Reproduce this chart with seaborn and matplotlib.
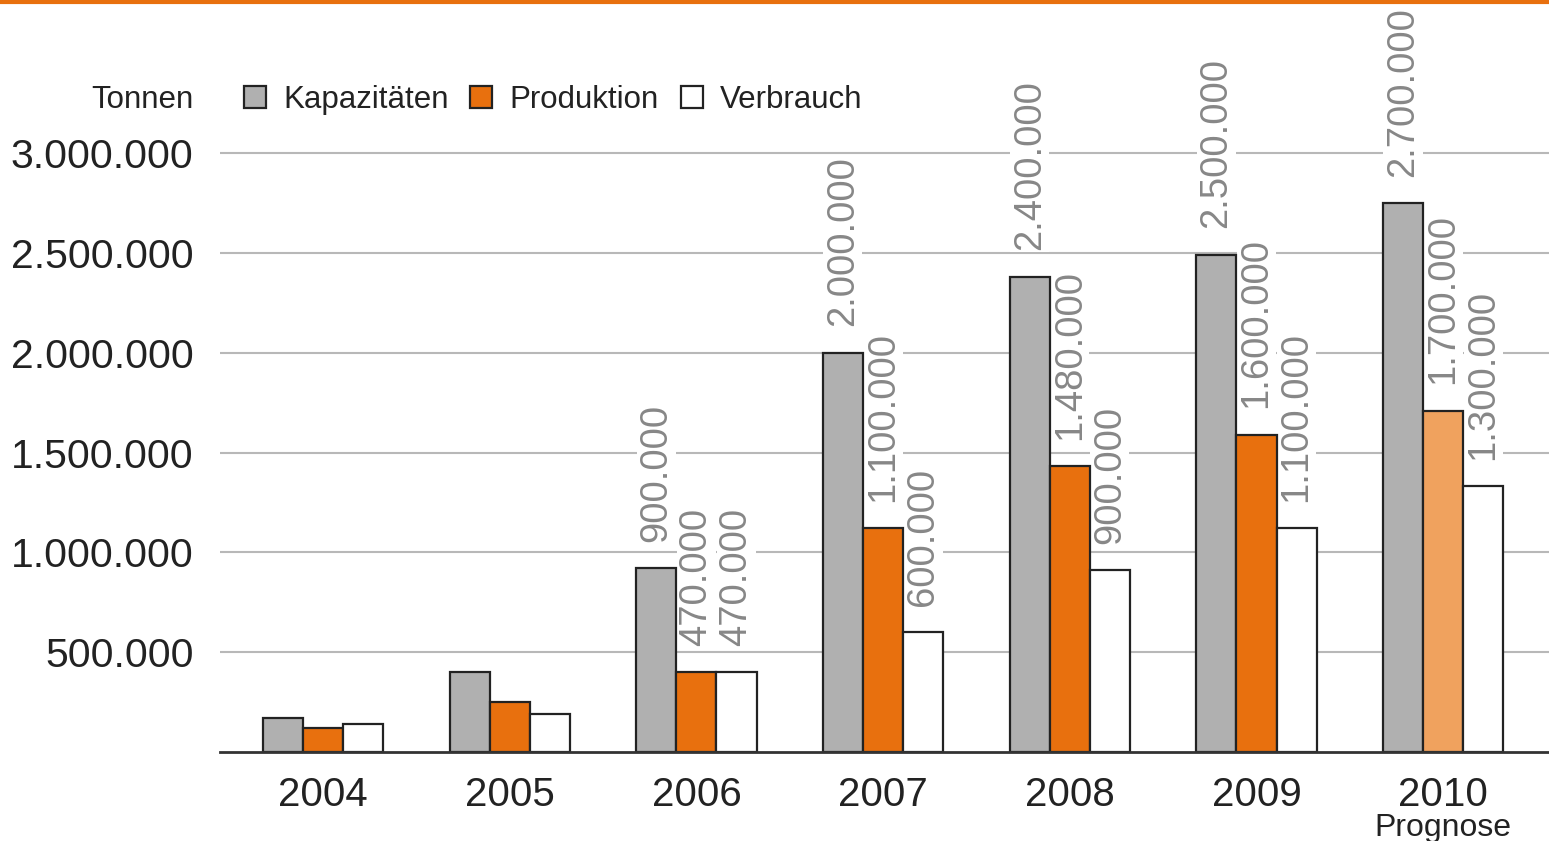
import pandas as pd
import matplotlib.pyplot as plt
import seaborn as sns
from matplotlib.patches import Patch
from matplotlib.lines import Line2D

sns.set_style('white')
plt.rcParams['font.family'] = ['Liberation Sans', 'DejaVu Sans']

# Daten (Tonnen)
jahre = ['2004', '2005', '2006', '2007', '2008', '2009', '2010']
kapazitaeten = [170000, 400000, 920000, 2000000, 2380000, 2490000, 2750000]
produktion = [120000, 250000, 400000, 1120000, 1430000, 1590000, 1710000]
verbrauch = [140000, 190000, 400000, 600000, 910000, 1120000, 1330000]

kap_labels = ['', '', '900.000', '2.000.000', '2.400.000', '2.500.000', '2.700.000']
prod_labels = ['', '', '470.000', '1.100.000', '1.480.000', '1.600.000', '1.700.000']
verb_labels = ['', '', '470.000', '600.000', '900.000', '1.100.000', '1.300.000']

serien = ['Kapazitäten', 'Produktion', 'Verbrauch']
y_ticks = [500000, 1000000, 1500000, 2000000, 2500000, 3000000]

GRAU = '#b0b0b0'
ORANGE = '#e8700e'
ORANGE_HELL = '#f0a25e'
WEISS = '#ffffff'
KANTE = '#222222'
LABEL_GRAU = '#878787'

df = pd.DataFrame({'Jahr': jahre, 'Kapazitäten': kapazitaeten,
                   'Produktion': produktion, 'Verbrauch': verbrauch})
df_long = df.melt(id_vars='Jahr', var_name='Serie', value_name='Tonnen')

W, H = 1549, 841
fig = plt.figure(figsize=(W / 100, H / 100), dpi=100)
ax = fig.add_axes([220 / W, (H - 752) / H, (W - 220) / W, 752 / H])

sns.barplot(data=df_long, x='Jahr', y='Tonnen', hue='Serie', hue_order=serien,
            palette=[GRAU, ORANGE, WEISS], saturation=1, width=0.645,
            edgecolor=KANTE, linewidth=1.6, legend=False, ax=ax, zorder=3)

# Prognose 2010 heller
ax.containers[1][6].set_facecolor(ORANGE_HELL)

ax.set_xlim(-0.552, 6.567)
ax.set_ylim(0, 752 / 599 * 3000000)
ax.set_yticks(y_ticks)
ax.set_yticklabels([f'{v:,}'.replace(',', '.') for v in y_ticks])
ax.set_xlabel('')
ax.set_ylabel('')
ax.set_axisbelow(True)
ax.yaxis.grid(True, color='#b8b8b8', linewidth=1.5)
ax.tick_params(axis='y', length=0, pad=19, labelsize=29.5, labelcolor='#222222')
ax.tick_params(axis='x', length=0, pad=17, labelsize=29, labelcolor='#222222')
for s in ['top', 'right', 'left']:
    ax.spines[s].set_visible(False)
ax.spines['bottom'].set_color('#333333')
ax.spines['bottom'].set_linewidth(2)
ax.spines['bottom'].set_zorder(4)

# Wertbeschriftungen
for cont, labels in zip(ax.containers, [kap_labels, prod_labels, verb_labels]):
    for bar, txt in zip(cont, labels):
        if not txt:
            continue
        ax.annotate(txt, (bar.get_x() + bar.get_width() / 2, bar.get_height()),
                    xytext=(0, 19), textcoords='offset points', rotation=90,
                    ha='center', va='bottom', fontsize=27.5, color=LABEL_GRAU,
                    bbox=dict(facecolor='white', edgecolor='none', pad=1),
                    annotation_clip=False, zorder=2.5)

ax.annotate('Prognose', xy=(6, 0), xycoords=('data', 'axes fraction'),
            xytext=(0, -55), textcoords='offset points',
            ha='center', va='center', fontsize=23, color='#222222')

# Legende
fig.text(193 / W, 1 - 100 / H, 'Tonnen', ha='right', va='center',
         fontsize=22.5, color='#222222')
handles = [Patch(facecolor=c, edgecolor=KANTE, linewidth=1.6)
           for c in [GRAU, ORANGE, WEISS]]
fig.legend(handles, serien, loc='center left',
           bbox_to_anchor=(244 / W, 1 - 100 / H), ncol=3, frameon=False,
           fontsize=22.5, handlelength=0.7, handleheight=0.7,
           handletextpad=0.55, columnspacing=0.7, borderpad=0,
           borderaxespad=0, labelcolor='#222222')

# orange Linie oben
fig.add_artist(Line2D([0, 1], [1 - 1.5 / H, 1 - 1.5 / H], color=ORANGE,
                      linewidth=3, transform=fig.transFigure))

fig.savefig('out.png', dpi=100)
